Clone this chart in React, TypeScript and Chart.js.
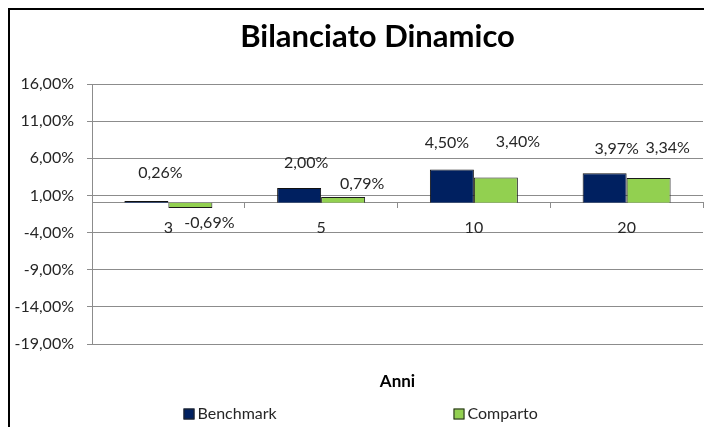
import React, { useEffect, useRef } from "react";
import { Chart, registerables } from "chart.js";

Chart.register(...registerables);

const chartTitle = "Bilanciato Dinamico";
const xAxisTitle = "Anni";
const categories = ["3", "5", "10", "20"];
const seriesNames = ["Benchmark", "Comparto"];
const benchmark = [0.26, 2.0, 4.5, 3.97];
const comparto = [-0.69, 0.79, 3.4, 3.34];
const yTicks = [-19, -14, -9, -4, 1, 6, 11, 16];

// styling (not data)
const FONT = "Lato, 'Open Sans', sans-serif";
const TEXT = "#262626";
const GRID = "#8c8c8c";
const COLORS = ["#002060", "#92d050"];
// manual label nudges (px) from bar tip, as in the original sheet
const LABEL_NUDGE = [
  [[14, -28], [7, -25], [-5, -27], [12, -25]],
  [[19, 15], [19, -13], [22, -36], [19, -30]],
];

const fmt = (v: number) => v.toFixed(2).replace(".", ",") + "%";

const decor = {
  id: "decor",
  afterDatasetsDraw(chart: any) {
    const { ctx } = chart;
    ctx.save();
    ctx.font = `16px ${FONT}`;
    ctx.fillStyle = TEXT;
    ctx.textAlign = "center";
    ctx.textBaseline = "middle";
    chart.data.datasets.forEach((ds: any, di: number) => {
      const meta = chart.getDatasetMeta(di);
      meta.data.forEach((bar: any, i: number) => {
        const v = ds.data[i] as number;
        const [dx, dy] = LABEL_NUDGE[di][i];
        ctx.fillText(fmt(v), bar.x + dx, bar.y + dy);
      });
    });
    ctx.restore();
  },
  afterDraw(chart: any) {
    const { ctx, chartArea } = chart;
    const cx = (chartArea.left + chartArea.right) / 2;
    ctx.save();
    // frame
    ctx.fillStyle = "#000";
    ctx.fillRect(0, 0, chart.width, 2);
    ctx.fillRect(0, 0, 2, chart.height);
    // title
    ctx.fillStyle = "#000";
    ctx.textAlign = "center";
    ctx.textBaseline = "middle";
    ctx.font = `bold 31px ${FONT}`;
    ctx.fillText(chartTitle, cx - 20, 29);
    // axis title
    ctx.font = `bold 17px ${FONT}`;
    ctx.fillText(xAxisTitle, cx, chartArea.bottom + 38);
    // legend
    ctx.font = `16px ${FONT}`;
    ctx.textAlign = "left";
    const ly = chartArea.bottom + 70;
    const lx = [cx - 214, cx + 56];
    seriesNames.forEach((name, i) => {
      ctx.fillStyle = COLORS[i];
      ctx.fillRect(lx[i], ly - 5.5, 11, 11);
      ctx.strokeStyle = "#222";
      ctx.lineWidth = 1;
      ctx.strokeRect(lx[i] + 0.5, ly - 5, 10, 10);
      ctx.fillStyle = TEXT;
      ctx.fillText(name, lx[i] + 14, ly);
    });
    ctx.restore();
  },
};

export default function App() {
  const ref = useRef<HTMLCanvasElement | null>(null);
  useEffect(() => {
    if (!ref.current) return;
    const chart = new Chart(ref.current, {
      type: "bar",
      data: {
        labels: categories,
        datasets: [
          {
            label: seriesNames[0],
            data: benchmark,
            backgroundColor: COLORS[0],
            borderColor: "#111",
            borderWidth: 1,
            categoryPercentage: 0.576,
            barPercentage: 1,
          },
          {
            label: seriesNames[1],
            data: comparto,
            backgroundColor: COLORS[1],
            borderColor: "#1a1a1a",
            borderWidth: 1,
            categoryPercentage: 0.576,
            barPercentage: 1,
          },
        ],
      },
      options: {
        responsive: false,
        animation: false,
        events: [],
        layout: { padding: { top: 76, right: 9, bottom: 83, left: 0 } },
        plugins: {
          legend: { display: false },
          title: { display: false },
          tooltip: { enabled: false },
        },
        scales: {
          x: {
            position: { y: 0 } as any,
            offset: true,
            grid: {
              display: true,
              drawOnChartArea: false,
              drawTicks: true,
              tickLength: 5,
              color: GRID,
              offset: true,
            },
            border: { display: true, color: GRID, width: 1 },
            ticks: { color: TEXT, font: { family: FONT, size: 16 }, padding: 10 },
          },
          y: {
            min: yTicks[0],
            max: yTicks[yTicks.length - 1],
            ticks: {
              stepSize: yTicks[1] - yTicks[0],
              callback: (v: any) => fmt(Number(v)),
              color: TEXT,
              font: { family: FONT, size: 16 },
              padding: 13,
            },
            grid: { color: GRID, tickLength: 5, drawTicks: true },
            border: { display: true, color: GRID },
            afterFit: (s: any) => {
              s.width = 84;
            },
          },
        },
      },
      plugins: [decor],
    });
    return () => chart.destroy();
  }, []);
  return (
    <div style={{ width: 704, height: 419, background: "#fff" }}>
      <canvas ref={ref} width={704} height={419} />
    </div>
  );
}
